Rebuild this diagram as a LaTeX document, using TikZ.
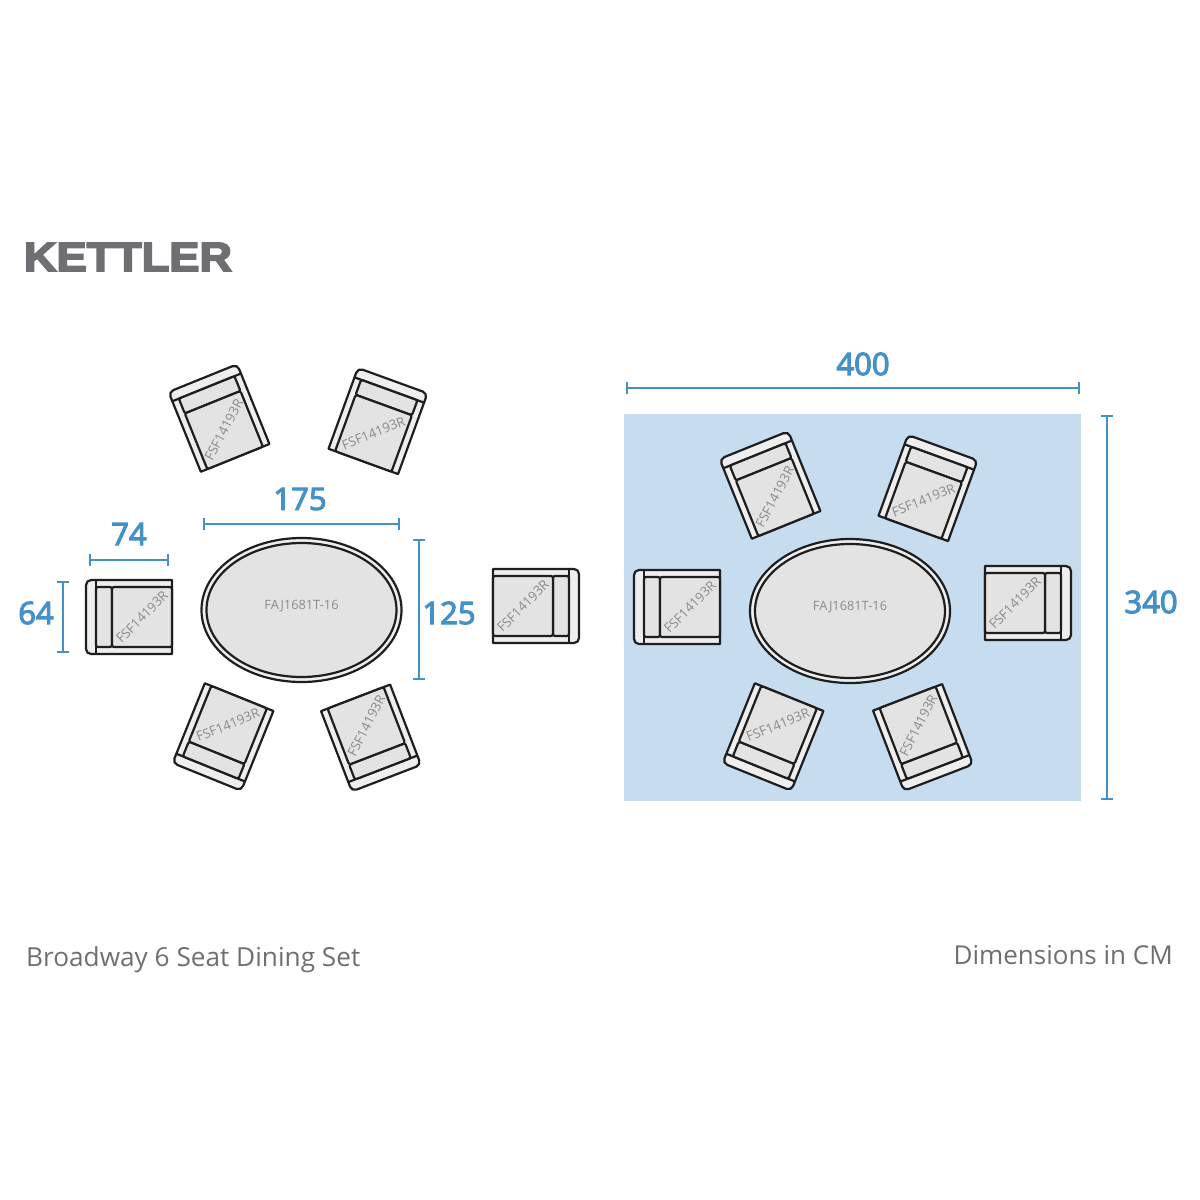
\documentclass[tikz,border=0pt]{standalone}
\usepackage{fontspec}
\usetikzlibrary{arrows.meta}
\setmainfont{Open Sans}
\newfontfamily\logofont[BoldFeatures={FakeBold=4}]{Liberation Sans}
\newfontfamily\dimfont[FakeBold=3.5]{Open Sans}
\definecolor{dimblue}{HTML}{4490C8}
\definecolor{matblue}{HTML}{C5DDEF}
\definecolor{seatgrey}{HTML}{E3E3E3}
\definecolor{armgrey}{HTML}{EEEEEE}
\definecolor{inkgrey}{HTML}{1E1E1E}
\definecolor{labelgrey}{HTML}{8A8A8A}
\definecolor{captiongrey}{HTML}{6E6F72}
\tikzset{
  outline/.style={draw=inkgrey,line width=2.2pt,line join=round},
  dimline/.style={draw=dimblue,line width=2pt,{Bar[width=12pt]}-{Bar[width=12pt]}},
  dimtext/.style={text=dimblue,font=\fontsize{31}{31}\selectfont\dimfont,inner sep=0pt},
  chairtext/.style={text=labelgrey,font=\fontsize{13.2}{13.2}\selectfont,inner sep=0pt},
  tabletext/.style={text=labelgrey,font=\fontsize{12.8}{12.8}\selectfont,inner sep=0pt},
  caption/.style={text=captiongrey,font=\fontsize{26}{26}\selectfont,inner sep=0pt},
  pics/chair/.style={code={
    \draw[outline,fill=armgrey] (43,-37) -- (43,37) [rounded corners=5pt] -- (-43,37) -- (-43,-37) [sharp corners] -- cycle;
    \draw[outline] (-33,-37) -- (-33,37);
    \draw[outline,fill=seatgrey,rounded corners=2pt] (-33,-30) rectangle (-17,30);
    \draw[outline,fill=seatgrey,rounded corners=2pt] (-17,-30) rectangle (43,30);
    \node[chairtext,rotate=#1] (-label) at (13,0) {FSF14193R};
  }},
  pics/dining/.style={code={
    \draw[outline,fill=armgrey] (0,0) ellipse (100 and 72);
    \draw[outline,fill=seatgrey] (0,0) ellipse (95 and 67);
    \node[tabletext] (-label) at (0,-4) {FAJ1681T-16};
  }}
}
\begin{document}
\begin{tikzpicture}[x=1pt,y=-1pt]
  \useasboundingbox (0,0) rectangle (1200,1200);
  \node[text=captiongrey,inner sep=0pt,xscale=1.1,font=\fontsize{41}{41}\selectfont\logofont\bfseries] (logo) at (128,257) {KETTLER};
  % layout on the mat
  \fill[matblue] (624,414) rectangle (1081,801);
  % chairs: x, y, rotation, text angle
  \foreach \x/\y/\r/\t [count=\i] in {219/418/-68/62, 378/421/-110/22, 129/617/0/45, 536/606/180/45, 223/737/68/22, 371/738/111/63}
    \pic[rotate=\r] (left\i) at (\x,\y) {chair=\t};
  \foreach \x/\y/\r/\t [count=\i] in {770/485/-68/62, 928/488/-110/22, 677/607/0/45, 1028/603/180/45, 773/737/68/22, 923/737.5/111/63}
    \pic[rotate=\r] (mat\i) at (\x,\y) {chair=\t};
  \pic (tableleft) at (301.5,610) {dining};
  \pic (tablemat) at (850,611) {dining};
  % sizes
  \draw[dimline] (89,560) -- (169,560);
  \node[dimtext] (d74) at (129,534) {74};
  \draw[dimline] (63,581) -- (63,653);
  \node[dimtext] (d64) at (36,613) {64};
  \draw[dimline] (203,524) -- (400,524);
  \node[dimtext] (d175) at (300,499) {175};
  \draw[dimline] (419,539) -- (419,680);
  \node[dimtext] (d125) at (449,613) {125};
  \draw[dimline] (626,388) -- (1080,388);
  \node[dimtext] (d400) at (863,364) {400};
  \draw[dimline] (1107,415) -- (1107,800);
  \node[dimtext] (d340) at (1151,602) {340};
  \node[caption,anchor=base west,font=\fontsize{26.2}{26.2}\selectfont] (setname) at (26,966) {Broadway 6 Seat Dining Set};
  \node[caption,anchor=east] (units) at (1173,955) {Dimensions in CM};
\end{tikzpicture}
\end{document}
